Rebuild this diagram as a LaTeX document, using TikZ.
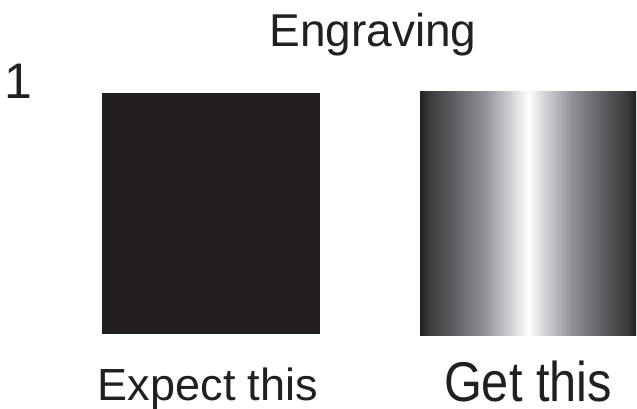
\documentclass[tikz,border=0pt]{standalone}
\usepackage{fontspec}
\setmainfont{Liberation Sans}
\usepackage{tikz}
\usetikzlibrary{positioning}
\usepackage{xcolor}
\definecolor{inkblack}{RGB}{35, 31, 32}
\definecolor{gA}{RGB}{58, 57, 60}
\definecolor{gB}{RGB}{92, 92, 96}
\definecolor{gC}{RGB}{145, 146, 151}
\definecolor{gD}{RGB}{214, 215, 219}
% the panel fills the inner 25bp--75bp of the shading
\pgfdeclarehorizontalshading{engrave}{100bp}{%
	color(0bp)=(inkblack); color(25bp)=(inkblack); color(27bp)=(gA);
	color(32.5bp)=(gB); color(40bp)=(gC); color(46.5bp)=(gD);
	color(50bp)=(white); color(53.5bp)=(gD); color(60bp)=(gC);
	color(67.5bp)=(gB); color(73bp)=(gA); color(75bp)=(inkblack);
	color(100bp)=(inkblack)}

\begin{document}
\begin{tikzpicture}[
			x=1pt, y=-1pt,
			lbl/.style={inner sep=0pt, anchor=base, text=inkblack},
			panel/.style={inner sep=0pt, draw=none}
		]

		\useasboundingbox (0,0) rectangle (637,409);

		\def\yMid{213.5}
		\def\xExpect{211}
		\def\xGet{528}

		%% Title and number
		\node[lbl, font=\fontsize{46}{50}\selectfont] (title) at (373,47) {Engraving};
		\node[lbl, font=\fontsize{50}{54}\selectfont] (num) at (18,99) {1};

		%% 1. Expected result (solid black panel)
		\node[panel, fill=inkblack, minimum width=218pt, minimum height=241pt]
			(expectbox) at (\xExpect,\yMid) {};
		\node[lbl, font=\fontsize{45}{50}\selectfont] (expect) at (208,400) {Expect this};

		%% 2. Actual result (shaded panel)
		\node[lbl, font=\fontsize{56}{60}\selectfont] (get) at (528,401)
			{\scalebox{0.87}[1]{Get this}};
		\node[panel, shading=engrave, minimum width=216pt, minimum height=243pt]
			(getbox) at (\xGet,\yMid) {};

		\end{tikzpicture}
\end{document}
